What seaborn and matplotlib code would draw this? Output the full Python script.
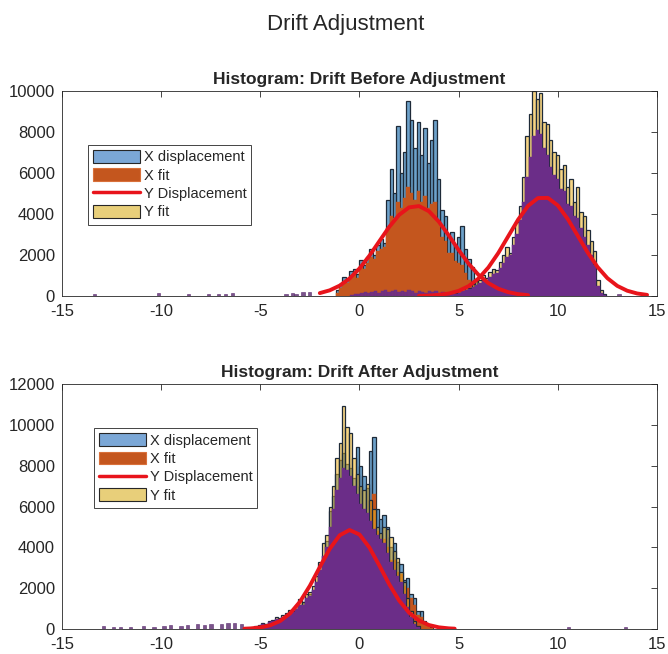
import seaborn as sns
import matplotlib.pyplot as plt
from matplotlib.patches import Patch
from matplotlib.lines import Line2D

# bin width shared by every histogram (data units)
BW = 0.17

# ---- Drift before adjustment ----
before_x_start = -1.2
before_x_disp = [300, 600, 950, 800, 1200, 1300, 1050, 1750, 1500, 1900,
                 2300, 2000, 2500, 2800, 2600, 4700, 6200, 5000, 8300, 6000,
                 7000, 9500, 8600, 7200, 8500, 6900, 8200, 6500, 7600, 8600,
                 5700, 4200, 3900, 2900, 3100, 2500, 2900, 3400, 2300, 1800,
                 1400, 800, 400, 150]
before_x_fit = [150, 400, 700, 650, 900, 1000, 900, 1400, 1300, 1600,
                1900, 1800, 2200, 2300, 2400, 3300, 3900, 3800, 4600, 4300,
                4800, 5300, 5000, 4700, 5100, 4600, 4900, 4300, 4500, 4600,
                3600, 2900, 2700, 2100, 2100, 1700, 1600, 1500, 1100, 800,
                600, 350, 200, 80]

before_y_start = 4.8
before_y_fit = [150, 250, 350, 450, 400, 600, 750, 800, 1000, 900,
                1150, 1300, 1250, 1650, 2000, 2400, 2100, 2900, 3600, 4400,
                5800, 7800, 8900, 10000, 9600, 9900, 8500, 8400, 7600, 7000,
                6900, 6200, 6400, 5300, 5700, 4600, 5300, 4100, 3900, 3200,
                2700, 2200, 800, 300, 100]
before_y_disp = [80, 150, 250, 300, 350, 450, 550, 650, 750, 800,
                 950, 1050, 1100, 1350, 1600, 1900, 2000, 2500, 3000, 3700,
                 4600, 5800, 6800, 7800, 8100, 7900, 7200, 6900, 6300, 5900,
                 5700, 5200, 5100, 4500, 4400, 3900, 3800, 3300, 2900, 2500,
                 2000, 1500, 500, 150, 50]
before_y_tail_start = -0.47
before_y_tail = [60, 120, 90, 150, 200, 130, 180, 250, 160, 220,
                 280, 190, 240, 300, 210, 260, 180, 290, 230, 170,
                 250, 200, 150, 220, 180, 260, 140, 200, 170, 120, 100]
before_out_x = [-13.45, -10.15, -8.55, -7.55, -7.05, -6.7, -6.35, -3.7,
                -3.4, -3.15, -2.9, -2.6, 13.0, 14.35]
before_out_h = [120, 150, 100, 120, 100, 110, 130, 100, 150, 120, 180, 200,
                90, 110]

before_xcurve_x = [-2.0, -1.5, -1.0, -0.5, 0.0, 0.5, 1.0, 1.5, 2.0, 2.5, 3.0,
                   3.5, 4.0, 4.5, 5.0, 5.5, 6.0, 6.5, 7.0, 7.5, 8.0, 8.5]
before_xcurve_y = [142, 277, 505, 854, 1343, 1964, 2669, 3372, 3959, 4322,
                   4386, 4136, 3627, 2956, 2240, 1577, 1032, 628, 356, 187,
                   91, 41]
before_ycurve_x = [3.0, 3.5, 4.0, 4.5, 5.0, 5.5, 6.0, 6.5, 7.0, 7.5, 8.0, 8.5,
                   9.0, 9.5, 10.0, 10.5, 11.0, 11.5, 12.0, 12.5, 13.0, 13.5,
                   14.0, 14.5]
before_ycurve_y = [8, 21, 53, 120, 250, 480, 852, 1393, 2098, 2913, 3727,
                   4395, 4777, 4785, 4417, 3758, 2946, 2129, 1418, 870, 492,
                   257, 123, 55]

# ---- Drift after adjustment ----
after_x_start = -5.3
after_x_disp = [100, 150, 200, 250, 300, 350, 450, 500, 550, 700,
                800, 850, 1000, 1200, 1300, 1500, 1700, 1900, 2300, 2800,
                3600, 4300, 5800, 6500, 7600, 8300, 8600, 8100, 7900, 7400,
                8900, 8000, 7500, 6900, 8700, 9400, 5900, 5400, 5600, 5000,
                4000, 4200, 3300, 3200, 2400, 2500, 1700, 1500, 900, 900,
                400, 200, 100]
after_x_fit = [50, 100, 150, 200, 250, 300, 350, 400, 450, 550,
               650, 700, 800, 950, 1050, 1200, 1350, 1500, 1800, 2200,
               2700, 3200, 4000, 4600, 5300, 5800, 6100, 5900, 5800, 5600,
               6200, 5900, 5600, 5300, 6300, 6600, 4800, 4400, 4400, 4000,
               3400, 3400, 2800, 2700, 2100, 2000, 1500, 1200, 700, 600,
               300, 150, 50]
after_y_start = -5.3
after_y_fit = [150, 200, 300, 250, 400, 450, 600, 550, 700, 800,
               950, 900, 1200, 1450, 1300, 1700, 1800, 2100, 2600, 3300,
               4200, 4600, 6000, 7000, 8400, 9100, 10900, 9900, 9600, 8400,
               7600, 7000, 6800, 7100, 6300, 5900, 5000, 4700, 5000, 4900,
               4500, 3800, 3500, 2800, 2300, 1500, 900, 400, 150]
after_y_disp = [100, 150, 250, 200, 350, 400, 500, 500, 600, 700,
                800, 850, 1000, 1200, 1200, 1500, 1600, 1900, 2300, 2900,
                3600, 4000, 5000, 5900, 6800, 7400, 7900, 7800, 7500, 7000,
                6600, 6100, 5900, 5700, 5300, 4900, 4600, 4400, 4200, 3700,
                3300, 2900, 2600, 2300, 1700, 1100, 600, 250, 80]
after_out_x = [-13.0, -12.4, -12.0, -11.5, -10.9, -10.4, -9.9, -9.5, -9.0,
               -8.6, -8.1, -7.8, -7.4, -7.0, -6.6, -6.3, -6.0, 10.6, 13.5]
after_out_h = [150, 100, 120, 100, 140, 110, 130, 200, 160, 180, 250, 220,
               260, 240, 280, 300, 250, 80, 100]

after_curve_x = [-5.8, -5.5, -5.0, -4.5, -4.0, -3.5, -3.0, -2.5, -2.0, -1.5,
                 -1.0, -0.5, 0.0, 0.5, 1.0, 1.5, 2.0, 2.5, 3.0, 3.5, 4.0,
                 4.5, 4.8]
after_curve_y = [16, 29, 77, 183, 393, 763, 1338, 2120, 3036, 3927, 4591,
                 4850, 4629, 3992, 3110, 2190, 1393, 801, 416, 195, 83, 32,
                 17]

legend_labels = ["X displacement", "X fit", "Y Displacement", "Y fit"]

BLUE = "#1F6FAE"
ORANGE = "#C4561E"
YELLOW = "#EDB120"
PURPLE = "#6B2D88"
RED = "#E8141B"
EDGE = "#262626"
BAR_EDGE = "#1E2A38"


def bins_from(start, heights):
    edges = [start + BW * i for i in range(len(heights) + 1)]
    centers = [start + BW * (i + 0.5) for i in range(len(heights))]
    return edges, centers


def draw_hist(ax, start, heights, color, alpha, edge, lw):
    edges, centers = bins_from(start, heights)
    sns.histplot(x=centers, weights=heights, bins=edges, ax=ax, color=color,
                 alpha=alpha, edgecolor=edge, linewidth=lw)


def draw_outliers(ax, xs, hs):
    sns.histplot(x=xs, weights=hs, binwidth=BW, ax=ax, color="#5A2A6E",
                 alpha=0.8, edgecolor="#5A2A6E", linewidth=0.4)


def style_axes(ax, ymax, title):
    ax.set_xlim(-15, 15)
    ax.set_ylim(0, ymax)
    ax.set_xticks(range(-15, 16, 5))
    ax.set_yticks(range(0, ymax + 1, 2000))
    ax.set_xlabel("")
    ax.set_ylabel("")
    ax.set_title(title, fontsize=12.5, fontweight="bold", pad=5)
    ax.tick_params(direction="in", top=True, right=True, length=4,
                   width=0.6, colors=EDGE, labelsize=12)
    ax.tick_params(axis="x", pad=6)
    ax.tick_params(axis="y", pad=5)
    for s in ax.spines.values():
        s.set_visible(True)
        s.set_color(EDGE)
        s.set_linewidth(0.6)


def add_legend(ax, anchor):
    handles = [
        Patch(facecolor="#7BA7D6", edgecolor=EDGE, linewidth=0.8),
        Patch(facecolor=ORANGE, edgecolor="#D9703A", linewidth=0.8),
        Line2D([0], [0], color=RED, linewidth=2.5),
        Patch(facecolor="#E8CF7A", edgecolor=EDGE, linewidth=0.8),
    ]
    leg = ax.legend(handles, legend_labels, loc="upper left",
                    bbox_to_anchor=anchor, borderaxespad=0, fontsize=10.5,
                    handlelength=3.2, handleheight=0.95, handletextpad=0.25,
                    labelspacing=0.28, borderpad=0.35, fancybox=False,
                    framealpha=1, edgecolor="#444444")
    leg.get_frame().set_linewidth(0.7)


sns.set_theme(style="white")
plt.rcParams["font.family"] = ["Liberation Sans", "DejaVu Sans"]
plt.rcParams["axes.unicode_minus"] = False

fig = plt.figure(figsize=(6.68, 6.54), dpi=100)
fig.patch.set_facecolor("white")
ax1 = fig.add_axes([0.0928, 0.5474, 0.8907, 0.3135])
ax2 = fig.add_axes([0.0928, 0.0382, 0.8907, 0.3746])

# top panel
draw_hist(ax1, before_x_start, before_x_disp, BLUE, 0.65, BAR_EDGE, 0.9)
draw_hist(ax1, before_x_start, before_x_fit, ORANGE, 1.0, ORANGE, 0.3)
draw_hist(ax1, before_y_start, before_y_fit, YELLOW, 0.55, BAR_EDGE, 0.9)
draw_hist(ax1, before_y_start, before_y_disp, PURPLE, 1.0, PURPLE, 0.3)
draw_hist(ax1, before_y_tail_start, before_y_tail, PURPLE, 0.9, PURPLE, 0.3)
draw_outliers(ax1, before_out_x, before_out_h)
sns.lineplot(x=before_xcurve_x, y=before_xcurve_y, ax=ax1, color=RED,
             linewidth=2.8, legend=False)
sns.lineplot(x=before_ycurve_x, y=before_ycurve_y, ax=ax1, color=RED,
             linewidth=2.8, legend=False)
style_axes(ax1, 10000, "Histogram: Drift Before Adjustment")
add_legend(ax1, (0.044, 0.737))

# bottom panel
draw_hist(ax2, after_x_start, after_x_disp, BLUE, 0.65, BAR_EDGE, 0.9)
draw_hist(ax2, after_x_start, after_x_fit, ORANGE, 1.0, ORANGE, 0.3)
draw_hist(ax2, after_y_start, after_y_fit, YELLOW, 0.55, BAR_EDGE, 0.9)
draw_hist(ax2, after_y_start, after_y_disp, PURPLE, 1.0, PURPLE, 0.3)
draw_outliers(ax2, after_out_x, after_out_h)
sns.lineplot(x=after_curve_x, y=after_curve_y, ax=ax2, color=RED,
             linewidth=2.8, legend=False)
style_axes(ax2, 12000, "Histogram: Drift After Adjustment")
add_legend(ax2, (0.054, 0.820))

fig.suptitle("Drift Adjustment", fontsize=16, x=0.518, y=0.962, va="center")

fig.savefig("out.png", dpi=100)
